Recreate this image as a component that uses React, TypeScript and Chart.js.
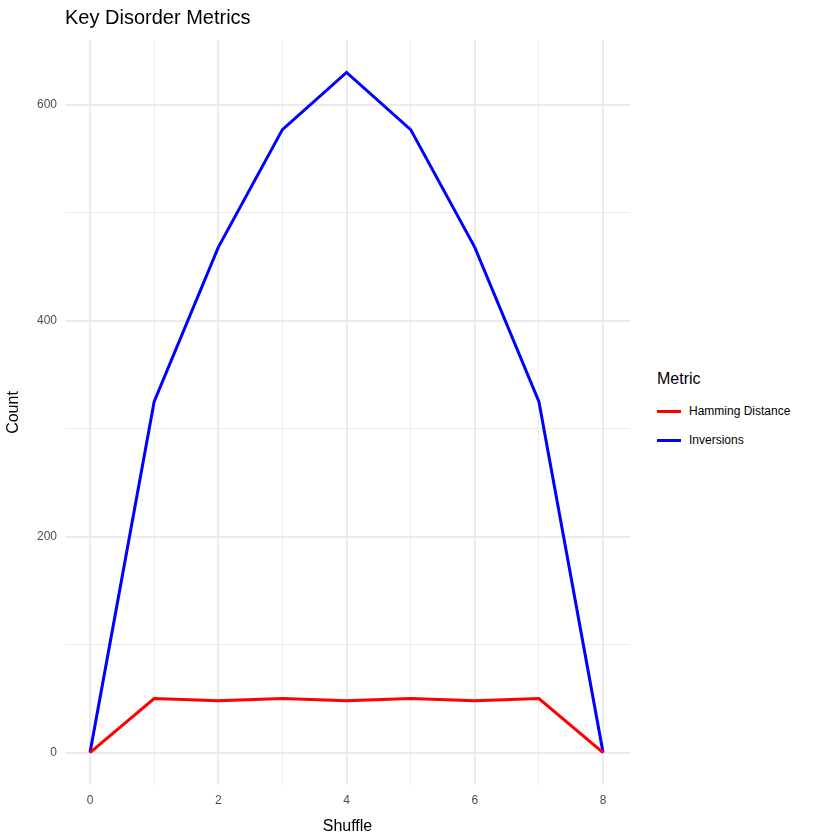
import { useEffect, useRef } from "react";
import { Chart, registerables } from "chart.js";

Chart.register(...registerables);

const shuffles = [0, 1, 2, 3, 4, 5, 6, 7, 8];
const hamming = [0, 50, 48, 50, 48, 50, 48, 50, 0];
const inversions = [0, 325, 468, 577, 630, 577, 468, 325, 0];

const FONT = "Liberation Sans, Arial, sans-serif";

const titlePlugin = {
  id: "plainTitle",
  afterDraw(chart: Chart) {
    const ctx = chart.ctx;
    ctx.save();
    ctx.font = `20px ${FONT}`;
    ctx.fillStyle = "#000";
    ctx.textBaseline = "middle";
    ctx.fillText("Key Disorder Metrics", chart.chartArea.left, 18);
    ctx.restore();
  },
};

export default function App() {
  const canvasRef = useRef<HTMLCanvasElement>(null);
  const chartRef = useRef<Chart | null>(null);

  useEffect(() => {
    if (!canvasRef.current) return;
    if (chartRef.current) chartRef.current.destroy();

    chartRef.current = new Chart(canvasRef.current, {
      type: "line",
      data: {
        datasets: [
          {
            label: "Hamming Distance",
            data: shuffles.map((s, i) => ({ x: s, y: hamming[i] })),
            borderColor: "#ff0000",
            borderWidth: 3,
            pointRadius: 0,
            tension: 0,
          },
          {
            label: "Inversions",
            data: shuffles.map((s, i) => ({ x: s, y: inversions[i] })),
            borderColor: "#0000ff",
            borderWidth: 3,
            pointRadius: 0,
            tension: 0,
          },
        ],
      },
      options: {
        animation: false,
        responsive: false,
        layout: { padding: { top: 40, right: 0, left: 0, bottom: 0 } },
        plugins: { legend: { display: false }, tooltip: { enabled: false }, title: { display: false } },
        scales: {
          x: {
            type: "linear",
            min: -0.39,
            max: 8.42,
            afterBuildTicks: (axis: any) => {
              axis.ticks = shuffles.map((v) => ({ value: v }));
            },
            afterFit: (axis: any) => {
              axis.height = 55;
            },
            border: { display: false },
            grid: {
              color: "#ebebeb",
              lineWidth: (c: any) => (c.tick && c.tick.value % 2 === 0 ? 2 : 1),
              drawTicks: false,
            },
            ticks: {
              color: "#4d4d4d",
              font: { family: FONT, size: 12 },
              padding: 8,
              callback: (v: any) => (Number(v) % 2 === 0 ? String(v) : ""),
            },
            title: { display: true, text: "Shuffle", color: "#000", font: { family: FONT, size: 16 }, padding: { top: 2 } },
          },
          y: {
            min: -30,
            max: 660,
            afterBuildTicks: (axis: any) => {
              axis.ticks = [0, 100, 200, 300, 400, 500, 600].map((v) => ({ value: v }));
            },
            afterFit: (axis: any) => {
              axis.width = 65;
            },
            border: { display: false },
            grid: {
              color: "#ebebeb",
              lineWidth: (c: any) => (c.tick && c.tick.value % 200 === 0 ? 2 : 1),
              drawTicks: false,
            },
            ticks: {
              color: "#4d4d4d",
              font: { family: FONT, size: 12 },
              padding: 8,
              callback: (v: any) => (Number(v) % 200 === 0 ? String(v) : ""),
            },
            title: { display: true, text: "Count", color: "#000", font: { family: FONT, size: 16 }, padding: { bottom: 4 } },
          },
        },
      },
      plugins: [titlePlugin],
    } as any);

    return () => {
      if (chartRef.current) chartRef.current.destroy();
      chartRef.current = null;
    };
  }, []);

  const legendItem = (color: string, label: string, top: number) => (
    <div style={{ position: "absolute", left: 657, top, display: "flex", alignItems: "center", fontSize: 12, fontFamily: FONT }}>
      <div style={{ width: 24, height: 3, background: color, marginRight: 8 }} />
      <span>{label}</span>
    </div>
  );

  return (
    <div style={{ position: "fixed", left: 0, top: 0, width: 840, height: 840, background: "#fff" }}>
      <canvas ref={canvasRef} width={630} height={840} style={{ position: "absolute", left: 0, top: 0 }} />
      <div style={{ position: "absolute", left: 657, top: 370, fontSize: 16, fontFamily: FONT }}>Metric</div>
      {legendItem("#ff0000", "Hamming Distance", 404)}
      {legendItem("#0000ff", "Inversions", 433)}
    </div>
  );
}
